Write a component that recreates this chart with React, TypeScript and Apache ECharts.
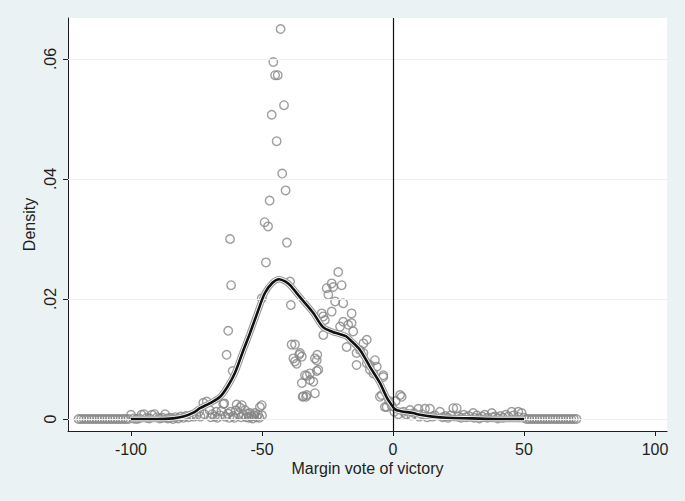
import React, { useEffect, useRef } from "react";
import * as echarts from "echarts";

// x positions of bins with zero density (left and right tails)
const zeroBinsLeft = [-120, -119, -118, -117, -116, -115, -114, -113, -112, -111, -110, -109, -108, -107, -106, -105, -104, -103, -102, -101];
const zeroBinsRight = [51, 52, 53, 54, 55, 56, 57, 58, 59, 60, 61, 62, 63, 64, 65, 66, 67, 68, 69, 70];

// binned densities [margin, density]
const leftTailBins: [number, number][] = [
  [-100, 0.0007], [-99, 0.0001], [-98, 0], [-97, 0.0001], [-96, 0.0007], [-95, 0.0008], [-94, 0.0002], [-93, 0.0001],
  [-92, 0.0007], [-91, 0.0008], [-90, 0.0003], [-89, 0.0001], [-88, 0.0002], [-87, 0.0008], [-86, 0.0001], [-85, 0.0002],
  [-84, 0], [-83, 0.0003], [-82, 0.0001], [-81, 0.0004], [-80, 0.0002], [-79, 0.0005], [-78, 0.0003], [-77, 0.0006], [-76, 0.0004],
];
const lowBins: [number, number][] = [
  [-75, 0.0006], [-74, 0.0012], [-73.5, 0.0004], [-72.4, 0.0027], [-72, 0.0008], [-71.1, 0.0029], [-70, 0.0015], [-69.5, 0.0003],
  [-69, 0.0008], [-68, 0.0004], [-67.5, 0.0012], [-67, 0.0002], [-66, 0.0006], [-65.5, 0.0013], [-64.8, 0.0025], [-64.4, 0.0026],
  [-64, 0.0004], [-63, 0.0009], [-62.5, 0.0002], [-62, 0.0012], [-61, 0.0005], [-60.5, 0.0002], [-60, 0.0014], [-59.7, 0.0024],
  [-59, 0.0008], [-58.4, 0.0019], [-58, 0.0003], [-57.7, 0.0023], [-57, 0.0007], [-56.5, 0.0015], [-56, 0.0003], [-55.5, 0.0009],
  [-55, 0.0002], [-54.6, 0.001], [-54, 0.0004], [-53.5, 0.0001], [-53, 0.0006], [-52.7, 0.001], [-52, 0.0003], [-51.5, 0.0007],
  [-51, 0.0002], [-50.8, 0.002], [-50.1, 0.0023], [-50, 0.0006],
];
const peakBins: [number, number][] = [
  [-62.2, 0.03], [-61.8, 0.0223], [-62.9, 0.0147], [-63.5, 0.0107], [-61.2, 0.008], [-50.1, 0.0201], [-48.5, 0.0261],
  [-42.9, 0.065], [-45.7, 0.0595], [-45, 0.0573], [-44, 0.0573], [-41.6, 0.0523], [-46.3, 0.0507], [-44.4, 0.0463],
  [-42.3, 0.0409], [-41, 0.0381], [-47.1, 0.0364], [-49, 0.0328], [-47.7, 0.0321], [-40.5, 0.0294], [-39.3, 0.0229], [-39, 0.019],
];
const dipBins: [number, number][] = [
  [-38.7, 0.0124], [-37.4, 0.0124], [-35.8, 0.0107], [-38, 0.0101], [-36.8, 0.0092], [-37.4, 0.0096], [-28.9, 0.0107],
  [-29.8, 0.0101], [-29.1, 0.0098], [-29.1, 0.008], [-33.6, 0.0073], [-31.7, 0.0076], [-28.5, 0.0082], [-34.8, 0.006],
  [-31.7, 0.0065], [-30.4, 0.0062], [-34.2, 0.0038], [-32.9, 0.004], [-29.8, 0.0043], [-34.5, 0.0037], [-33.2, 0.0037],
  [-35.5, 0.011], [-34.8, 0.0104], [-32.9, 0.0072],
];
const shoulderBins: [number, number][] = [
  [-20.9, 0.0245], [-23.4, 0.0226], [-19.6, 0.0223], [-25.3, 0.0218], [-22.8, 0.022], [-24.7, 0.0207], [-22.1, 0.0196],
  [-19, 0.0193], [-23.4, 0.0179], [-15.8, 0.0176], [-27.2, 0.0176], [-26.6, 0.0171], [-26, 0.0165], [-19, 0.0162],
  [-17.1, 0.0157], [-15.8, 0.016], [-20.2, 0.0154], [-15.2, 0.0146], [-26.6, 0.014], [-10, 0.0132], [-11.3, 0.0126],
  [-17.7, 0.012], [-12.6, 0.0115], [-13.9, 0.011], [-6.9, 0.0098], [-8.8, 0.009], [-13.9, 0.009], [-11.3, 0.011],
  [-10, 0.0093], [-8.8, 0.0082], [-6.2, 0.0087], [-7.5, 0.0076], [-3.7, 0.0073], [-3.7, 0.007], [-5, 0.0037], [-4.3, 0.004],
  [-3.1, 0.002], [-2.4, 0.002], [-1.5, 0.003], [-0.5, 0.0022],
];
const rightTailBins: [number, number][] = [
  [0.5, 0.0012], [1, 0.003], [2, 0.0008], [2.7, 0.004], [3.3, 0.0037], [4, 0.0012], [5, 0.0008], [6.5, 0.0015], [7, 0.0006],
  [8, 0.001], [9.7, 0.0017], [10, 0.0004], [11, 0.0008], [12.2, 0.0017], [13, 0.0003], [14.1, 0.0017], [15, 0.0004],
  [16, 0.0006], [17.9, 0.0012], [19, 0.0003], [20, 0.0005], [21, 0.0002], [22, 0.0006], [23, 0.0018], [24.3, 0.0018],
  [25, 0.0004], [26, 0.0002], [27, 0.0007], [28, 0.0003], [29, 0.0005], [30.6, 0.001], [31, 0.0002], [32, 0.0006],
  [33, 0.0001], [34, 0.0004], [35, 0.0007], [36, 0.0002], [37.7, 0.001], [38, 0.0003], [39, 0.0004], [40, 0.0001],
  [41, 0.0005], [42, 0.0002], [43, 0.0007], [44, 0.0004], [45.3, 0.0012], [46, 0.0006], [47.8, 0.0012], [48, 0.0003],
  [49.1, 0.001], [50, 0.0002],
];

// kernel density estimate
const kdensity: [number, number][] = [
  [-100, 0], [-90, 0], [-84, 0.0001], [-80, 0.0004], [-76, 0.0011], [-73.7, 0.0018], [-70, 0.0026], [-66, 0.0037],
  [-63, 0.0055], [-60.3, 0.0077], [-57.5, 0.011], [-54.6, 0.0143], [-51.7, 0.0178], [-48.9, 0.021], [-46, 0.0227],
  [-43.5, 0.0233], [-41, 0.0229], [-39.3, 0.0223], [-35.5, 0.0203], [-30.5, 0.0177], [-26.7, 0.0153], [-23, 0.0145],
  [-21.4, 0.0143], [-18, 0.0138], [-16.4, 0.0132], [-12.6, 0.0115], [-8.8, 0.0087], [-5, 0.006], [-2.5, 0.0037],
  [-1.1, 0.0027], [0.8, 0.0016], [3, 0.0013], [7.6, 0.001], [10.3, 0.0007], [15, 0.0004], [20.6, 0.0002], [30, 0.0001],
  [40, 0], [50, 0],
];

const xTicks = [-100, -50, 0, 50, 100];
const yTicks = [0, 0.02, 0.04, 0.06];

const FONT = "'Liberation Sans', Arial, Helvetica, sans-serif";
const BG = "#eaf2f3";
const INK = "#1e1e1e";

export default function App() {
  const ref = useRef<HTMLDivElement>(null);
  useEffect(() => {
    if (!ref.current) return;
    const chart = echarts.init(ref.current, undefined, { renderer: "svg" });
    const points: [number, number][] = [
      ...zeroBinsLeft.map((x) => [x, 0] as [number, number]),
      ...leftTailBins,
      ...lowBins,
      ...peakBins,
      ...dipBins,
      ...shoulderBins,
      ...rightTailBins,
      ...zeroBinsRight.map((x) => [x, 0] as [number, number]),
    ];
    chart.setOption({
      animation: false,
      backgroundColor: BG,
      textStyle: { fontFamily: FONT },
      grid: {
        left: 68, top: 18, right: 18, bottom: 70,
        show: true, backgroundColor: "#ffffff", borderWidth: 0,
      },
      xAxis: {
        type: "value",
        min: -124.05,
        max: 104.58,
        name: "Margin vote of victory",
        nameLocation: "middle",
        nameGap: 29,
        nameMoveOverlap: false,
        nameTextStyle: { fontSize: 16, color: INK, fontFamily: FONT },
        axisLine: { show: true, onZero: false, lineStyle: { color: INK, width: 1 } },
        axisTick: { show: true, length: 5, lineStyle: { color: INK }, customValues: xTicks },
        axisLabel: { fontSize: 16, color: INK, margin: 10, customValues: xTicks, fontFamily: FONT },
        splitLine: { show: false },
      },
      yAxis: {
        type: "value",
        min: -0.002,
        max: 0.06683,
        name: "Density",
        nameLocation: "middle",
        nameGap: 31,
        nameMoveOverlap: false,
        nameRotate: 90,
        nameTextStyle: { fontSize: 16, color: INK, fontFamily: FONT },
        axisLine: { show: true, onZero: false, lineStyle: { color: INK, width: 1 } },
        axisTick: { show: true, length: 5, lineStyle: { color: INK }, customValues: yTicks },
        axisLabel: {
          fontSize: 16, color: INK, margin: 10, rotate: 90, fontFamily: FONT,
          customValues: yTicks,
          formatter: (v: number) => (v === 0 ? "0" : v.toFixed(2).replace(/^0/, "")),
        },
        splitLine: { show: false },
      },
      series: [
        {
          type: "line",
          data: [],
          silent: true,
          z: 1,
          markLine: {
            silent: true,
            symbol: "none",
            label: { show: false },
            lineStyle: { color: BG, width: 1.2, type: "solid" },
            data: yTicks.map((v) => ({ yAxis: v })),
          },
        },
        {
          type: "scatter",
          data: points,
          symbol: "circle",
          symbolSize: 8.5,
          z: 2,
          itemStyle: { color: "rgba(0,0,0,0)", borderColor: "#858585", borderWidth: 1.4 },
        },
        {
          type: "line",
          data: kdensity,
          smooth: 0.3,
          showSymbol: false,
          z: 3,
          lineStyle: { color: "#9a9a9a", width: 6.5 },
        },
        {
          type: "line",
          data: kdensity,
          smooth: 0.3,
          showSymbol: false,
          z: 4,
          lineStyle: { color: "#ffffff", width: 4.3 },
        },
        {
          type: "line",
          data: kdensity,
          smooth: 0.3,
          showSymbol: false,
          z: 5,
          lineStyle: { color: "#111111", width: 2.6 },
          markLine: {
            silent: true,
            symbol: "none",
            label: { show: false },
            lineStyle: { color: "#111", width: 1.2, type: "solid" },
            data: [{ xAxis: 0 }],
          },
        },
      ],
    });
    return () => chart.dispose();
  }, []);
  return (
    <div
      ref={ref}
      style={{ position: "absolute", left: 0, top: 0, width: 685, height: 501 }}
    />
  );
}
